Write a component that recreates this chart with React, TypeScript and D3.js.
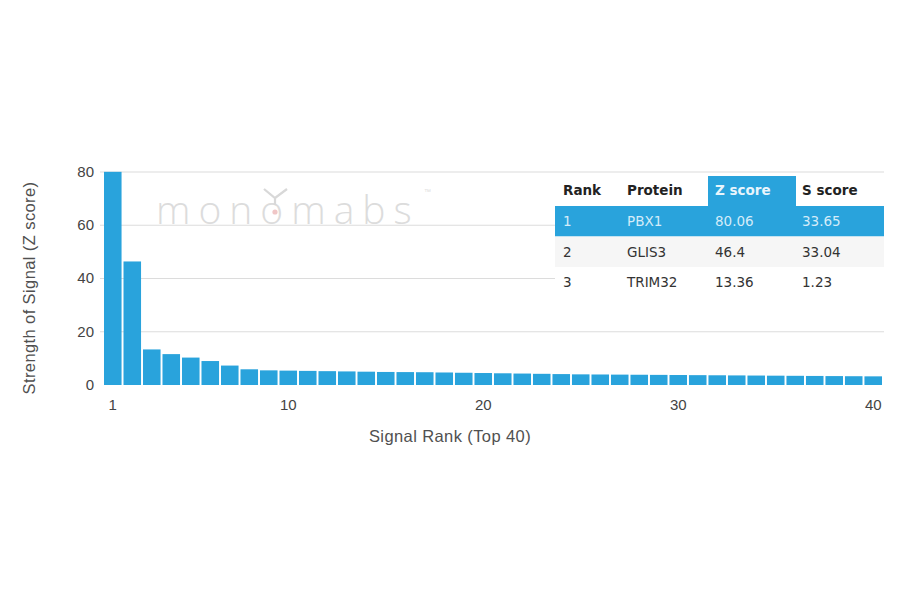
import React from "react";
import * as d3 from "d3";

const ranks: number[] = Array.from({ length: 40 }, (_, i) => i + 1);
const zScores: number[] = [
  80.06, 46.4, 13.36, 11.6, 10.3, 9.0, 7.3, 5.9, 5.5, 5.4,
  5.3, 5.2, 5.1, 5.0, 4.9, 4.85, 4.8, 4.7, 4.6, 4.5,
  4.4, 4.3, 4.2, 4.1, 4.0, 3.95, 3.9, 3.85, 3.8, 3.75,
  3.7, 3.65, 3.6, 3.55, 3.5, 3.45, 3.4, 3.35, 3.3, 3.25,
];
const yTicks: number[] = [0, 20, 40, 60, 80];
const xTicks: number[] = [1, 10, 20, 30, 40];

const tableHeaders: string[] = ["Rank", "Protein", "Z score", "S score"];
const tableRank: string[] = ["1", "2", "3"];
const tableProtein: string[] = ["PBX1", "GLIS3", "TRIM32"];
const tableZ: string[] = ["80.06", "46.4", "13.36"];
const tableS: string[] = ["33.65", "33.04", "1.23"];

const BLUE = "#29a3dc";

export default function App() {
  const x = d3
    .scaleBand<number>()
    .domain(ranks)
    .range([104, 882])
    .paddingInner(0.1)
    .paddingOuter(0);
  const y = d3.scaleLinear().domain([0, 80]).range([385, 172]);

  const colX = [563, 627, 715, 802];
  const tableLeft = 555;
  const tableRight = 884;
  const headerTop = 176;
  const rowH = 30.5;
  const rowsTop = 206;

  const rows = tableRank.map((r, i) => [r, tableProtein[i], tableZ[i], tableS[i]]);

  const axisFont = "'Liberation Sans', Arial, sans-serif";
  const tableFont = "'DejaVu Sans', sans-serif";

  return (
    <svg
      width={900}
      height={594}
      style={{ position: "absolute", left: 0, top: 0, background: "#fff" }}
    >
      {/* gridlines */}
      {yTicks.slice(1).map((t) => (
        <line
          key={"g" + t}
          x1={100}
          x2={884}
          y1={y(t)}
          y2={y(t)}
          stroke="#dcdcdc"
          strokeWidth={1.2}
        />
      ))}

      {/* watermark */}
      <g opacity={0.9}>
        <text
          x={156}
          y={224}
          fontFamily="'Open Sans', 'DejaVu Sans', sans-serif"
          fontWeight={300}
          fontSize={39}
          letterSpacing={8}
          fill="#d9d9d9"
        >
          monomabs
        </text>
        <path
          d="M264,189 L275,198 L287,189 M275,198 L275,205"
          stroke="#d4d4d4"
          strokeWidth={2.2}
          fill="none"
        />
        <circle cx={275} cy={212} r={2.6} fill="#efc0c0" />
        <text x={424} y={194} fontSize={7} fill="#dadada" fontFamily={axisFont}>
          ™
        </text>
      </g>

      {/* bars */}
      {zScores.map((v, i) => (
        <rect
          key={"b" + i}
          x={x(ranks[i])}
          y={y(v)}
          width={x.bandwidth()}
          height={y(0) - y(v)}
          fill={BLUE}
        />
      ))}

      {/* y tick labels */}
      {yTicks.map((t) => (
        <text
          key={"yt" + t}
          x={94}
          y={y(t) + 1}
          textAnchor="end"
          dominantBaseline="middle"
          fontFamily={axisFont}
          fontSize={15}
          fill="#444"
        >
          {t}
        </text>
      ))}

      {/* x tick labels */}
      {xTicks.map((t) => (
        <text
          key={"xt" + t}
          x={(x(t) as number) + x.bandwidth() / 2}
          y={410}
          textAnchor="middle"
          fontFamily={axisFont}
          fontSize={15}
          fill="#444"
        >
          {t}
        </text>
      ))}

      {/* axis titles */}
      <text
        x={450}
        y={442}
        textAnchor="middle"
        fontFamily={axisFont}
        fontSize={16.5}
        letterSpacing={0.4}
        fill="#505050"
      >
        Signal Rank (Top 40)
      </text>
      <text
        transform="translate(35,288) rotate(-90)"
        textAnchor="middle"
        fontFamily={axisFont}
        fontSize={16.5}
        letterSpacing={0.4}
        fill="#505050"
      >
        Strength of Signal (Z score)
      </text>

      {/* table */}
      <rect
        x={tableLeft}
        y={headerTop}
        width={tableRight - tableLeft}
        height={rowsTop + rowH * 3 - headerTop}
        fill="#fff"
      />
      <rect x={708} y={headerTop} width={88} height={rowsTop - headerTop} fill={BLUE} />
      <rect
        x={tableLeft}
        y={rowsTop}
        width={tableRight - tableLeft}
        height={rowH}
        fill={BLUE}
      />
      <rect
        x={tableLeft}
        y={rowsTop + rowH}
        width={tableRight - tableLeft}
        height={rowH}
        fill="#f6f6f6"
      />
      {tableHeaders.map((h, i) => (
        <text
          key={"h" + i}
          x={colX[i]}
          y={195}
          fontFamily={tableFont}
          fontWeight="bold"
          fontSize={13.5}
          fill={i === 2 ? "#e8f5fc" : "#222"}
        >
          {h}
        </text>
      ))}
      {rows.map((row, ri) =>
        row.map((cell, ci) => (
          <text
            key={"c" + ri + "-" + ci}
            x={colX[ci]}
            y={rowsTop + rowH * ri + 20}
            fontFamily={tableFont}
            fontSize={13.5}
            fill={ri === 0 ? "#d4ecf9" : "#333"}
          >
            {cell}
          </text>
        ))
      )}
    </svg>
  );
}
